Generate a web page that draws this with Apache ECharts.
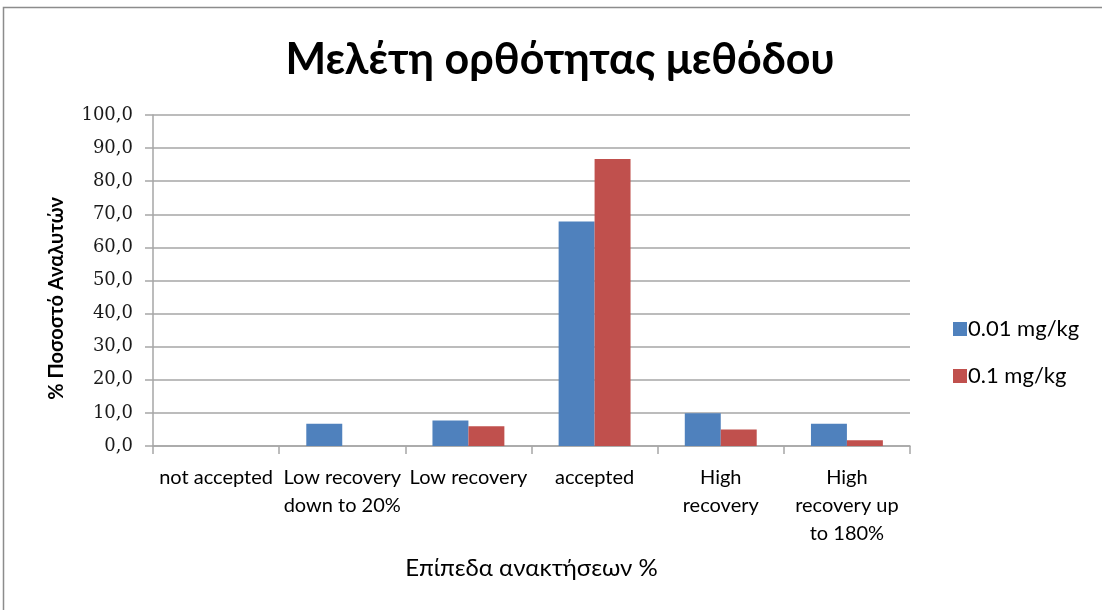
<!DOCTYPE html>
<html>
<head>
<meta charset="utf-8">
<script src="https://cdn.jsdelivr.net/npm/echarts@6/dist/echarts.min.js"></script>
<style>
  html, body { margin: 0; padding: 0; background: #fff; }
  #chart { width: 1102px; height: 610px; }
</style>
</head>
<body>
<div id="chart"></div>
<script>
// Recovery levels (x axis categories)
const categories = [
  'not accepted',
  'Low recovery\ndown to 20%',
  'Low recovery',
  'accepted',
  'High\nrecovery',
  'High\nrecovery up\nto 180%'
];
// Percentage of analysts per spiking level
const series001 = [0, 6.7, 7.7, 67.8, 9.9, 6.7];
const series01 = [0, 0, 6.0, 86.7, 5.0, 1.7];
const seriesNames = ['0.01 mg/kg', '0.1 mg/kg'];

const FONT = 'Lato, "Noto Sans", sans-serif';
const NUM_FONT = '"DejaVu Serif", serif';

const chart = echarts.init(document.getElementById('chart'), null, { renderer: 'canvas' });
chart.setOption({
  animation: false,
  backgroundColor: '#ffffff',
  title: {
    text: 'Μελέτη ορθότητας μεθόδου',
    left: 555,
    textAlign: 'center',
    top: 34,
    textStyle: { fontFamily: FONT, fontSize: 43, fontWeight: 'bold', color: '#000' }
  },
  legend: {
    orient: 'vertical',
    left: 948,
    top: 313,
    itemWidth: 14,
    itemHeight: 14,
    itemGap: 25,
    icon: 'rect',
    textStyle: { fontFamily: FONT, fontSize: 22, color: '#000', padding: [0, 0, 0, -4] },
    data: seriesNames
  },
  grid: { left: 153, right: 192, top: 115, bottom: 164, containLabel: false },
  xAxis: {
    type: 'category',
    data: categories,
    name: 'Επίπεδα ανακτήσεων %',
    nameLocation: 'middle',
    nameGap: 110,
    nameTextStyle: { fontFamily: FONT, fontSize: 24, color: '#000', padding: [0, 0, 0, 0] },
    axisLine: { lineStyle: { color: '#a6a6a6', width: 1.5 } },
    axisTick: { show: true, length: 8, lineStyle: { color: '#a6a6a6', width: 1.5 } },
    axisLabel: {
      interval: 0,
      fontFamily: FONT,
      fontSize: 20,
      color: '#000',
      lineHeight: 28,
      margin: 18
    }
  },
  yAxis: {
    type: 'value',
    min: 0,
    max: 100,
    interval: 10,
    name: '% Ποσοστό Αναλυτών',
    nameLocation: 'middle',
    nameGap: 86,
    nameTextStyle: { fontFamily: FONT, fontSize: 20, color: '#000', fontWeight: 'bold', padding: [0, 36, 0, 0] },
    axisLine: { show: true, lineStyle: { color: '#a6a6a6', width: 1.5 } },
    axisTick: { show: true, length: 8, lineStyle: { color: '#a6a6a6', width: 1.5 } },
    splitLine: { lineStyle: { color: '#a6a6a6', width: 1.5 } },
    axisLabel: {
      fontFamily: NUM_FONT,
      fontSize: 18,
      color: '#1a1a1a',
      margin: 20,
      formatter: v => v.toFixed(1).replace('.', ',')
    }
  },
  series: [
    {
      name: seriesNames[0],
      type: 'bar',
      data: series001,
      barGap: '0%',
      barCategoryGap: '43%',
      itemStyle: { color: '#4f81bd' }
    },
    {
      name: seriesNames[1],
      type: 'bar',
      data: series01,
      itemStyle: { color: '#c0504d' }
    }
  ],
  graphic: [
    {
      type: 'rect',
      shape: { x: 3.5, y: 7.5, width: 1102, height: 610 },
      style: { fill: 'none', stroke: '#8c8c8c', lineWidth: 1.5 },
      silent: true
    }
  ]
});
</script>
</body>
</html>
